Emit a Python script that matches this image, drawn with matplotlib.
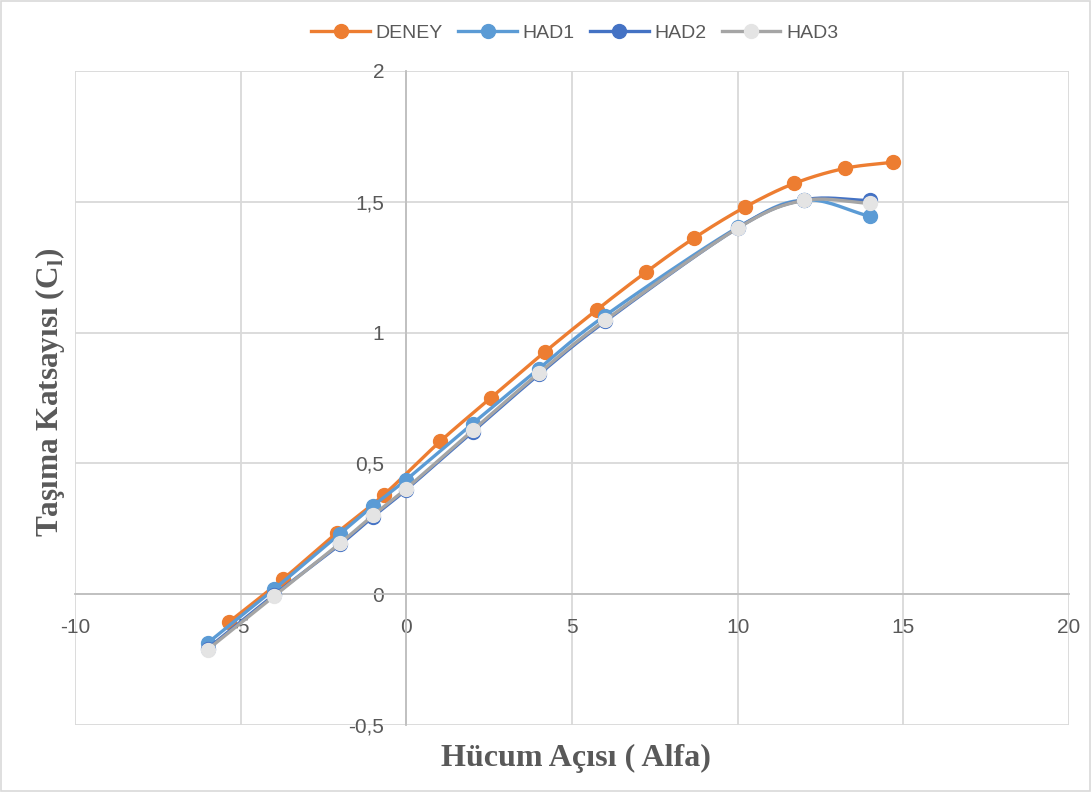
import numpy as np
import matplotlib
matplotlib.use('Agg')
from matplotlib import pyplot as plt

# data
deney_x = [-5.35, -3.72, -2.1, -0.68, 1.02, 2.56, 4.18, 5.74, 7.22, 8.68, 10.21, 11.7, 13.24, 14.68]
deney_y = [-0.106, 0.058, 0.234, 0.38, 0.584, 0.751, 0.926, 1.086, 1.230, 1.361, 1.479, 1.570, 1.628, 1.651]
had_x = [-6, -4, -2, -1, 0, 2, 4, 6, 10, 12, 14]
had1_y = [-0.187, 0.018, 0.232, 0.338, 0.438, 0.652, 0.862, 1.065, 1.402, 1.507, 1.444]
had2_y = [-0.208, -0.004, 0.190, 0.297, 0.400, 0.621, 0.840, 1.043, 1.400, 1.507, 1.505]
had3_y = [-0.212, -0.008, 0.195, 0.302, 0.404, 0.626, 0.845, 1.047, 1.399, 1.505, 1.494]
x_ticks = [-10, -5, 0, 5, 10, 15, 20]
y_ticks = [-0.5, 0, 0.5, 1, 1.5, 2]
y_labels = ['-0,5', '0', '0,5', '1', '1,5', '2']


def smooth(x, y, n=20):
    # catmull-rom curve through the points, like excel's smoothed line
    x = np.asarray(x, float)
    y = np.asarray(y, float)
    px = np.concatenate([[2 * x[0] - x[1]], x, [2 * x[-1] - x[-2]]])
    py = np.concatenate([[2 * y[0] - y[1]], y, [2 * y[-1] - y[-2]]])
    xs, ys = [], []
    t = np.linspace(0, 1, n)
    for i in range(1, len(px) - 2):
        for p, out in ((px, xs), (py, ys)):
            p0, p1, p2, p3 = p[i - 1], p[i], p[i + 1], p[i + 2]
            out.extend(0.5 * ((2 * p1) + (-p0 + p2) * t
                              + (2 * p0 - 5 * p1 + 4 * p2 - p3) * t ** 2
                              + (-p0 + 3 * p1 - 3 * p2 + p3) * t ** 3))
    return xs, ys


fig = plt.figure(figsize=(10.91, 7.92), dpi=100)
ax = fig.add_axes([75 / 1091, 1 - 725 / 792, (1069 - 75) / 1091, (725 - 71) / 792])

series = [
    ('DENEY', deney_x, deney_y, '#ED7D31', '#ED7D31'),
    ('HAD1', had_x, had1_y, '#5B9BD5', '#5B9BD5'),
    ('HAD2', had_x, had2_y, '#4472C4', '#4472C4'),
    ('HAD3', had_x, had3_y, '#A5A5A5', '#E4E4E4'),
]
handles = []
for i, (name, xs, ys, lc, mc) in enumerate(series):
    sx, sy = smooth(xs, ys)
    ax.plot(sx, sy, color=lc, lw=2.4, zorder=3 + i, solid_capstyle='round')
    ax.plot(xs, ys, ls='none', marker='o', ms=10, mfc=mc, mec=mc, zorder=3 + i)
    h, = ax.plot([], [], color=lc, lw=2.4, marker='o', ms=10, mfc=mc, mec=mc)
    handles.append(h)

ax.set_xlim(-10, 20)
ax.set_ylim(-0.5, 2)
ax.set_xticks(x_ticks)
ax.set_yticks(y_ticks)
ax.set_xticklabels([str(v) for v in x_ticks])
ax.set_yticklabels(y_labels)
ax.grid(True, color='#D9D9D9', lw=1.3, zorder=0)
ax.set_axisbelow(True)
for s in ['top', 'right']:
    ax.spines[s].set_visible(False)
ax.spines['left'].set_position(('data', 0))
ax.spines['bottom'].set_position(('data', 0))
ax.spines['left'].set_color('#BFBFBF')
ax.spines['bottom'].set_color('#BFBFBF')
ax.spines['left'].set_linewidth(1.3)
ax.spines['bottom'].set_linewidth(1.3)
ax.tick_params(length=0, labelsize=15, colors='#595959')
ax.tick_params(axis='x', pad=17)
ax.tick_params(axis='y', pad=16)
for lab in ax.get_xticklabels() + ax.get_yticklabels():
    lab.set_fontfamily('Liberation Sans')

fig.legend(handles, [s[0] for s in series], loc='center', bbox_to_anchor=(0.527, 1 - 33 / 792),
           ncol=4, frameon=False, handlelength=3, columnspacing=0.8,
           handletextpad=0.3, labelcolor='#595959', prop={'family': 'Liberation Sans', 'size': 14})

fig.text(576 / 1091, 1 - 758 / 792, 'Hücum Açısı ( Alfa)', ha='center', va='center',
         fontsize=23, fontweight='bold', family='Liberation Serif', color='#595959')
fig.text(50 / 1091, 1 - 392 / 792, r'Taşıma Katsayısı (C$_\mathregular{l}$)', ha='center', va='center',
         rotation=90, fontsize=22.5, fontweight='bold', family='Liberation Serif', color='#595959')

fig.patches.append(plt.Rectangle((0.001, 0.001), 0.998, 0.998, transform=fig.transFigure,
                                 fill=False, ec='#D9D9D9', lw=1.2))
fig.savefig('out.png', dpi=100)
